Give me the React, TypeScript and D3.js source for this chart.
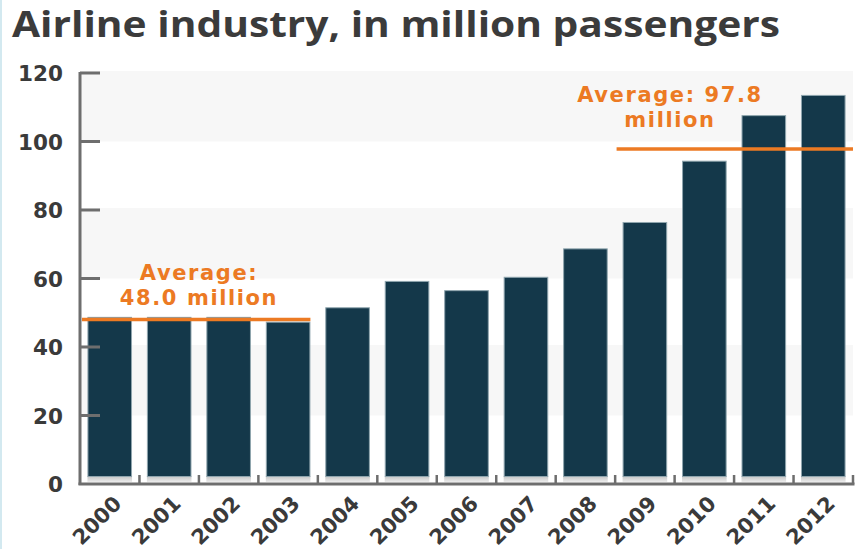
import React from "react";
import * as d3 from "d3";

const years = ["2000","2001","2002","2003","2004","2005","2006","2007","2008","2009","2010","2011","2012"];
const passengers = [48.8, 48.8, 48.8, 47.4, 51.6, 59.3, 56.6, 60.5, 68.8, 76.5, 94.4, 107.7, 113.6];
const yTicks = [0, 20, 40, 60, 80, 100, 120];
const averages = [48.0, 97.8];
const avgSpans = [["2000", "2003"], ["2009", "2012"]];
const avgLabels = [["Average:", "48.0 million"], ["Average: 97.8", "million"]];
const title = "Airline industry, in million passengers";

const W = 856, H = 549;
const left = 80, right = 853, top = 73, bottom = 484;

export default function App() {
  const x = d3.scaleBand<string>().domain(years).range([left, right]).paddingInner(0.25).paddingOuter(0.125);
  const y = d3.scaleLinear().domain([0, 120]).range([bottom, top]);
  const step = x.step();
  const orange = "#ec7a23";
  const axisC = "#6e6e6e";
  return (
    <svg width={W} height={H} style={{ position: "absolute", left: 0, top: 0, background: "#fff" }}>
      <defs>
        <linearGradient id="shadow" x1="0" y1="0" x2="0" y2="1">
          <stop offset="0" stopColor="#c4c4c4" />
          <stop offset="1" stopColor="#ececec" />
        </linearGradient>
      </defs>
      <rect x={0} y={0} width={2} height={H} fill="#d3e9f0" />
      <text x={12} y={37} fontFamily="Open Sans" fontWeight={700} fontSize={36} textLength={768} lengthAdjust="spacingAndGlyphs" fill="#3b3b3b">{title}</text>
      {yTicks.slice(0, -1).map((t, i) => {
        const hi = yTicks[i + 1];
        const shaded = (yTicks.length - 2 - i) % 2 === 0;
        return shaded ? (
          <rect key={t} x={left} y={y(hi) - 2} width={right - left} height={y(t) - y(hi) + 2} fill="#f7f7f7" />
        ) : null;
      })}
      {years.map((yr, i) => (
        <g key={yr}>
          <rect x={x(yr)!} y={bottom - 8} width={x.bandwidth()} height={6} fill="url(#shadow)" />
          <rect x={x(yr)! + 0.5} y={y(passengers[i]) + 0.5} width={x.bandwidth() - 1} height={bottom - 8 - y(passengers[i])} fill="#14384a" stroke="#8fa5ae" strokeWidth={1} />
        </g>
      ))}
      {averages.map((a, k) => {
        const x0 = k === 0 ? left + 2 : x(avgSpans[k][0])! - 6;
        const x1 = k === 0 ? x(avgSpans[k][1])! + x.bandwidth() : right;
        const cx = k === 0 ? 199 : 670;
        const by = y(a);
        return (
          <g key={k}>
            <line x1={x0} x2={x1} y1={by} y2={by} stroke={orange} strokeWidth={3.5} />
            <text x={cx} y={by - (k === 0 ? 40 : 47)} textAnchor="middle" fontFamily="DejaVu Sans" fontWeight={700} fontSize={21} letterSpacing={1.6} fill={orange}>{avgLabels[k][0]}</text>
            <text x={cx} y={by - (k === 0 ? 15 : 22)} textAnchor="middle" fontFamily="DejaVu Sans" fontWeight={700} fontSize={21} letterSpacing={1.6} fill={orange}>{avgLabels[k][1]}</text>
          </g>
        );
      })}
      <line x1={left} x2={left} y1={top - 1} y2={bottom + 1} stroke={axisC} strokeWidth={3} />
      {yTicks.map((t) => (
        <g key={t}>
          {t > 0 && <line x1={left} x2={left + 20} y1={y(t)} y2={y(t)} stroke={axisC} strokeWidth={3} />}
          <text x={63} y={y(t) + 8} textAnchor="end" fontFamily="DejaVu Sans" fontWeight={700} fontSize={21.5} fill="#3a3a3a">{t}</text>
        </g>
      ))}
      <line x1={left - 1.5} x2={right + 1.5} y1={bottom} y2={bottom} stroke={axisC} strokeWidth={3} />
      {years.map((yr, i) => {
        const tx = left + step * (i + 1);
        return <line key={"t" + yr} x1={tx} x2={tx} y1={bottom} y2={bottom - 9} stroke={axisC} strokeWidth={2.5} />;
      })}
      {years.map((yr) => {
        const cx = x(yr)! + x.bandwidth() / 2 + 13;
        const cy = 505;
        return (
          <text key={"l" + yr} x={cx} y={cy} textAnchor="end" transform={`rotate(-45 ${cx} ${cy})`} fontFamily="DejaVu Sans" fontWeight={700} fontSize={21} fill="#3a3a3a">{yr}</text>
        );
      })}
    </svg>
  );
}
